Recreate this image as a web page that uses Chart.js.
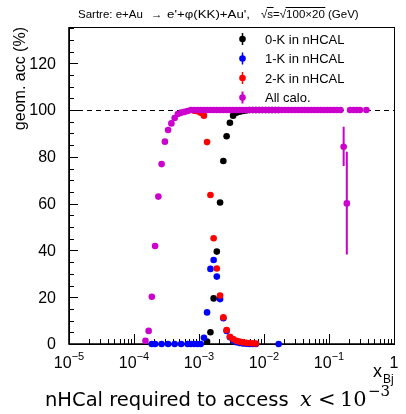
<!DOCTYPE html>
<html>
<head>
<meta charset="utf-8">
<script src="https://cdn.jsdelivr.net/npm/chart.js@4"></script>
<style>
    body { margin: 0; background: #fff; }
    canvas { display: block; }
</style>
</head>
<body>
<canvas id="accChart" width="406" height="414"></canvas>
<script>
// x_Bj bin centres (20 bins per decade) and geometric acceptance in %

// All calo. (magenta)
const allX = [
    1.50e-4, 1.68e-4, 1.88e-4, 2.11e-4, 2.37e-4, 2.66e-4, 2.99e-4, 3.35e-4, 3.76e-4,
    4.22e-4, 4.73e-4, 5.31e-4, 5.96e-4, 6.68e-4, 7.50e-4, 8.41e-4, 9.44e-4,
    1.06e-3, 1.19e-3, 1.33e-3, 1.50e-3, 1.68e-3, 1.88e-3, 2.11e-3, 2.37e-3, 2.66e-3, 2.99e-3,
    3.35e-3, 3.76e-3, 4.22e-3, 4.73e-3, 5.31e-3, 5.96e-3, 6.68e-3, 7.50e-3, 8.41e-3, 9.44e-3,
    1.06e-2, 1.19e-2, 1.33e-2, 1.50e-2, 1.68e-2, 1.88e-2, 2.11e-2, 2.37e-2, 2.66e-2, 2.99e-2,
    3.35e-2, 3.76e-2, 4.22e-2, 4.73e-2, 5.31e-2, 5.96e-2, 6.68e-2, 7.50e-2, 8.41e-2, 9.44e-2,
    0.106, 0.119, 0.133, 0.150, 0.168, 0.188, 0.211, 0.237, 0.266, 0.299, 0.376
];
const allY = [
    1.4, 5.6, 20.2, 41.9, 63.0, 76.9, 86.5, 91.5, 94.3,
    96.6, 98.3, 98.9, 99.2, 99.6, 100, 100, 100,
    100, 100, 100, 100, 100, 100, 100, 100, 100, 100,
    100, 100, 100, 100, 100, 100, 100, 100, 100, 100,
    100, 100, 100, 100, 100, 100, 100, 100, 100, 100,
    100, 100, 100, 100, 100, 100, 100, 100, 100, 100,
    100, 100, 100, 100, 84.3, 60.1, 100, 100, 100, 100, 100
];
// the two points with visible error bars
const errX = [0.168, 0.188];
const errLow = [76.1, 38.3];
const errHigh = [92.9, 82.2];

// 0-K in nHCAL (black)
const zeroKX = [
    1.33e-3, 1.50e-3, 1.68e-3, 1.88e-3, 2.11e-3, 2.37e-3, 2.66e-3, 2.99e-3, 3.35e-3, 3.76e-3,
    4.22e-3, 4.73e-3, 5.31e-3, 5.96e-3, 6.68e-3, 7.50e-3, 8.41e-3, 9.44e-3,
    1.06e-2, 1.19e-2, 1.33e-2, 1.50e-2, 1.68e-2
];
const zeroKY = [
    1.0, 5.0, 19.5, 39.5, 60.5, 78.2, 88.8, 94.6, 97.6, 98.9,
    99.3, 99.6, 99.8, 100, 100, 100, 100, 100,
    100, 100, 100, 100, 100
];

// 1-K in nHCAL (blue)
const oneKX = [
    1.88e-4, 2.11e-4, 2.66e-4, 3.35e-4, 4.22e-4, 5.31e-4, 6.68e-4, 7.50e-4, 8.41e-4, 9.44e-4,
    1.06e-3, 1.19e-3, 1.33e-3, 1.50e-3, 1.68e-3, 1.88e-3, 2.11e-3, 2.37e-3, 2.66e-3, 2.99e-3,
    3.35e-3, 3.76e-3, 4.22e-3, 4.73e-3, 5.31e-3, 5.96e-3, 6.68e-3, 7.50e-3, 1.68e-2
];
const oneKY = [
    0, 0, 0, 0, 0, 0, 0, 0, 0, 0,
    0, 2.7, 13.5, 32.1, 35.9, 28.8, 19.2, 11.0, 5.6, 2.9,
    1.5, 0.8, 0.4, 0.2, 0.1, 0, 0, 0, 0
];

// 2-K in nHCAL (red)
const twoKX = [
    8.41e-4, 9.44e-4, 1.06e-3, 1.19e-3, 1.33e-3, 1.50e-3, 1.68e-3, 1.88e-3, 2.11e-3, 2.37e-3,
    2.66e-3, 2.99e-3, 3.35e-3, 3.76e-3, 4.22e-3, 4.73e-3, 5.31e-3, 5.96e-3, 6.68e-3, 7.50e-3
];
const twoKY = [
    99.7, 99.5, 98.9, 97.6, 86.3, 63.7, 45.2, 32.3, 20.7, 11.4,
    6.0, 3.1, 2.1, 1.4, 1.0, 0.7, 0.5, 0.4, 0.3, 0.2
];

const legendLabels = ['0-K in nHCAL', '1-K in nHCAL', '2-K in nHCAL', 'All calo.'];
const legendColors = ['#000000', '#0000ff', '#ff0000', '#cc00cc'];
const xDecades = [-5, -4, -3, -2, -1, 0];
const yTickLabels = [0, 20, 40, 60, 80, 100, 120];

const SANS = '"Liberation Sans", Arial, Helvetica, sans-serif';
const SERIF = '"DejaVu Serif", "Liberation Serif", serif';

function toPoints(xs, ys) {
    return xs.map((x, i) => ({ x: x, y: ys[i] }));
}

function series(label, xs, ys, color, order) {
    return {
        label: label,
        data: toPoints(xs, ys),
        showLine: false,
        pointStyle: 'circle',
        pointRadius: 3.3,
        pointHoverRadius: 3.3,
        pointBorderWidth: 0,
        pointBackgroundColor: color,
        backgroundColor: color,
        borderColor: color,
        clip: false,
        order: order
    };
}

// draw text stretched to span [x0, x1]
function fitText(ctx, text, x0, x1, y) {
    const w = ctx.measureText(text).width;
    ctx.save();
    ctx.translate(x0, y);
    ctx.scale((x1 - x0) / w, 1);
    ctx.fillText(text, 0, 0);
    ctx.restore();
}

// frame, ticks, dashed 100% line and error bars (under the markers)
const rootFrame = {
    id: 'rootFrame',
    beforeDatasetsDraw(chart) {
        const ctx = chart.ctx;
        const a = chart.chartArea;
        const xs = chart.scales.x;
        const ys = chart.scales.y;
        ctx.save();
        ctx.strokeStyle = '#000';

        // dashed line at 100%
        const y100 = Math.round(ys.getPixelForValue(100)) + 0.5;
        ctx.lineWidth = 1;
        ctx.setLineDash([5, 4]);
        ctx.beginPath();
        ctx.moveTo(a.left, y100);
        ctx.lineTo(a.right, y100);
        ctx.stroke();
        ctx.setLineDash([]);

        // frame
        ctx.strokeRect(Math.round(a.left) + 0.5, Math.round(a.top) + 0.5,
            Math.round(a.right - a.left), Math.round(a.bottom - a.top));

        // axis lines a bit heavier
        ctx.lineWidth = 1.6;
        ctx.beginPath();
        ctx.moveTo(a.left, a.top);
        ctx.lineTo(a.left, a.bottom);
        ctx.lineTo(a.right, a.bottom);
        ctx.stroke();

        // y ticks: major every 20, minor every 5
        ctx.lineWidth = 1;
        ctx.beginPath();
        for (let v = 0; v <= ys.max; v += 5) {
            const y = Math.round(ys.getPixelForValue(v)) + 0.5;
            const len = v % 20 === 0 ? 9 : 5;
            ctx.moveTo(a.left, y);
            ctx.lineTo(a.left + len, y);
        }
        // x ticks: decades and 2..9
        xDecades.forEach(d => {
            for (let m = 1; m <= 9; m++) {
                const v = m * Math.pow(10, d);
                if (v > xs.max * 1.0001) break;
                const x = Math.round(xs.getPixelForValue(v)) + 0.5;
                const len = m === 1 ? 10 : 5;
                ctx.moveTo(x, a.bottom);
                ctx.lineTo(x, a.bottom - len);
            }
        });
        ctx.stroke();

        // error bars
        ctx.strokeStyle = legendColors[3];
        ctx.lineWidth = 2;
        ctx.beginPath();
        errX.forEach((x, i) => {
            const px = xs.getPixelForValue(x);
            ctx.moveTo(px, ys.getPixelForValue(errLow[i]));
            ctx.lineTo(px, ys.getPixelForValue(errHigh[i]));
        });
        ctx.stroke();
        ctx.restore();
    },

    afterDraw(chart) {
        const ctx = chart.ctx;
        const a = chart.chartArea;
        const xs = chart.scales.x;
        const ys = chart.scales.y;
        ctx.save();
        ctx.fillStyle = '#000';

        // y tick labels
        ctx.font = '16px ' + SANS;
        ctx.textAlign = 'right';
        ctx.textBaseline = 'middle';
        yTickLabels.forEach(v => {
            ctx.fillText(String(v), a.left - 13, ys.getPixelForValue(v) + 1);
        });

        // x tick labels 10^n
        ctx.textAlign = 'left';
        ctx.textBaseline = 'alphabetic';
        xDecades.forEach(d => {
            const x = xs.getPixelForValue(Math.pow(10, d));
            if (d === 0) {
                ctx.font = '16px ' + SANS;
                const w = ctx.measureText('1').width;
                ctx.fillText('1', x - w / 2, 368);
                return;
            }
            ctx.font = '16px ' + SANS;
            const wBase = ctx.measureText('10').width;
            ctx.font = '11px ' + SANS;
            const sup = '\u2212' + Math.abs(d);
            const wSup = ctx.measureText(sup).width;
            const x0 = x - (wBase + wSup) / 2;
            ctx.font = '16px ' + SANS;
            ctx.fillText('10', x0, 368);
            ctx.font = '11px ' + SANS;
            ctx.fillText(sup, x0 + wBase, 360);
        });

        // x axis title
        ctx.font = '18px ' + SANS;
        ctx.fillText('x', 373, 377);
        ctx.font = '12px ' + SANS;
        ctx.fillText('Bj', 383, 383);

        // y axis title
        ctx.save();
        ctx.translate(25, a.top);
        ctx.rotate(-Math.PI / 2);
        ctx.font = '16px ' + SANS;
        ctx.textAlign = 'right';
        ctx.fillText('geom. acc (%)', 0, 0);
        ctx.restore();

        // title
        ctx.font = '11.5px ' + SANS;
        ctx.textAlign = 'left';
        const ty = 18;
        ctx.fillText('Sartre: e+Au', 78, ty);
        ctx.fillText('\u2192', 151, ty);
        fitText(ctx, "e'+\u03c6(KK)+Au',", 167, 250, ty);
        let sx = 261;
        const piece = (t, over) => {
            const w = ctx.measureText(t).width;
            ctx.fillText(t, sx, ty);
            if (over) {
                ctx.fillRect(sx - 0.5, ty - 11, w + 1, 1);
            }
            sx += w;
        };
        piece('\u221a');
        piece('s', true);
        piece('=');
        piece('\u221a');
        piece('100\u00d720', true);
        piece(' (GeV)');

        // legend
        legendLabels.forEach((label, i) => {
            const y = 39 + i * 19.5;
            const x = 242.5;
            ctx.strokeStyle = legendColors[i];
            ctx.fillStyle = legendColors[i];
            ctx.lineWidth = i === 3 ? 2 : 1.5;
            ctx.beginPath();
            ctx.moveTo(x, y - 6);
            ctx.lineTo(x, y + 6);
            ctx.stroke();
            ctx.beginPath();
            ctx.arc(x, y, 3.3, 0, Math.PI * 2);
            ctx.fill();
            ctx.fillStyle = '#000';
            ctx.font = '13px ' + SANS;
            ctx.textBaseline = 'middle';
            ctx.fillText(label, 265, y + 1);
            ctx.textBaseline = 'alphabetic';
        });

        // caption under the plot
        ctx.fillStyle = '#000';
        ctx.font = '19.5px "DejaVu Sans", sans-serif';
        ctx.fillText('nHCal required to access', 45, 406);
        ctx.font = 'italic 21px ' + SERIF;
        ctx.fillText('x', 300, 406);
        ctx.font = '21px ' + SERIF;
        ctx.fillText('<', 318, 406);
        ctx.fillText('10', 340, 406);
        ctx.font = '15px ' + SERIF;
        ctx.fillText('\u22123', 368, 396);
        ctx.restore();
    }
};

document.addEventListener('DOMContentLoaded', function() {
    const ctx = document.getElementById('accChart');
    new Chart(ctx.getContext('2d'), {
        type: 'scatter',
        data: {
            datasets: [
                series(legendLabels[0], zeroKX, zeroKY, legendColors[0], 3),
                series(legendLabels[1], oneKX, oneKY, legendColors[1], 2),
                series(legendLabels[2], twoKX, twoKY, legendColors[2], 1),
                series(legendLabels[3], allX, allY, legendColors[3], 0)
            ]
        },
        options: {
            responsive: false,
            animation: false,
            events: [],
            layout: {
                padding: { left: 69, right: 12, top: 27, bottom: 70 }
            },
            plugins: {
                legend: { display: false },
                tooltip: { enabled: false },
                title: { display: false }
            },
            scales: {
                x: { type: 'logarithmic', min: 1e-5, max: 1, display: false },
                y: { type: 'linear', min: 0, max: 135.5, display: false }
            }
        },
        plugins: [rootFrame]
    });
});
</script>
</body>
</html>
